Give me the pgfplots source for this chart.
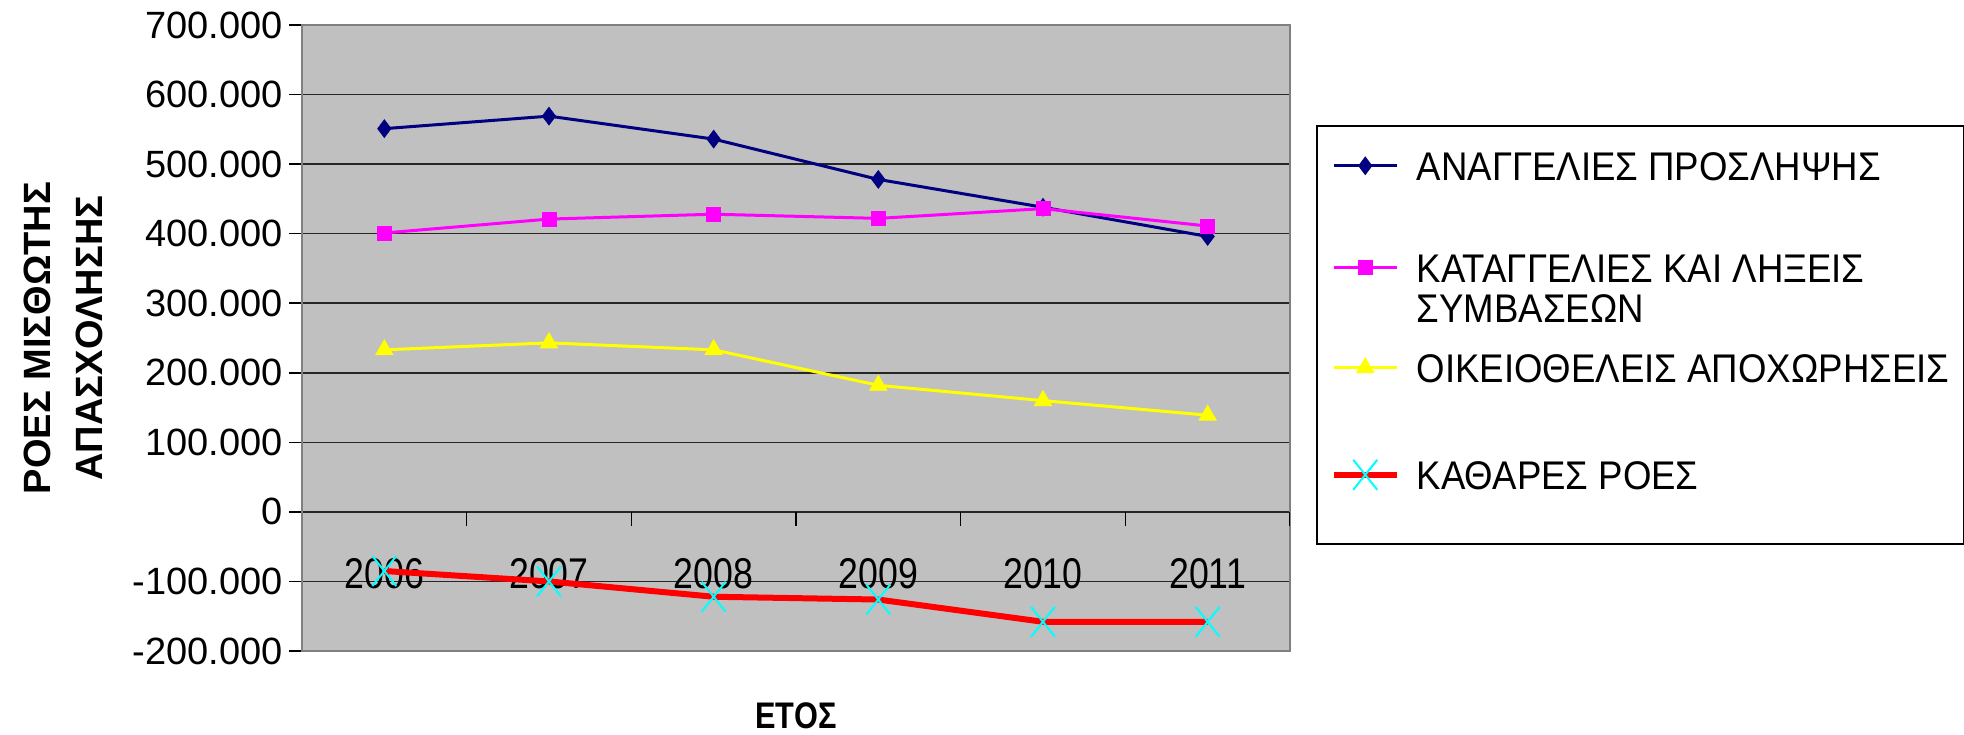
\documentclass[border=0pt]{standalone}
\usepackage{fontspec}
\setmainfont{Liberation Sans}
\newfontfamily\xfont{Liberation Sans}[FakeStretch=0.83]
\newfontfamily\lfont{Liberation Sans}[FakeStretch=0.915]
\usepackage{pgfplots}
\pgfplotsset{compat=1.18}
\definecolor{navyc}{RGB}{0,0,128}
\definecolor{magc}{RGB}{255,0,255}
\definecolor{yelc}{RGB}{255,255,0}
\definecolor{cyanc}{RGB}{0,255,255}
\definecolor{redc}{RGB}{255,0,0}
\definecolor{bgc}{RGB}{192,192,192}
\definecolor{bordc}{RGB}{128,128,128}
\begin{document}
\begin{tikzpicture}
\path[use as bounding box] (-151pt,-41.5pt) rectangle (831pt,325.5pt);
\begin{axis}[
  anchor=south west, at={(0pt,0pt)},
  scale only axis, width=494pt, height=313pt,
  xmin=-0.5, xmax=5.5, ymin=-200000, ymax=700000,
  xtick={0,1,2,3,4,5},
  xticklabels={2006,2007,2008,2009,2010,2011},
  ytick={-200000,-100000,0,100000,200000,300000,400000,500000,600000,700000},
  scaled y ticks=false,
  /pgf/number format/assume math mode=true,
  yticklabel style={/pgf/number format/fixed, /pgf/number format/1000 sep={.}, font=\fontsize{19}{22}\selectfont},
  xticklabel style={font=\xfont\fontsize{21.5}{24}\selectfont, yshift=56.2pt},
  axis background/.style={fill=bgc},
  axis line style={draw=bordc, line width=1.2pt},
  ymajorgrids, grid style={draw=black!85, line width=0.8pt},
  ytick pos=left, tick align=outside, major tick length=6.25pt,
  ytick style={draw=black, line width=0.8pt},
  xtick style={draw=none},
  xlabel={ΕΤΟΣ},
  xlabel style={at={(axis description cs:0.5,0)}, anchor=center, yshift=-32.5pt, font=\xfont\bfseries\fontsize{18.5}{20}\selectfont},
  ylabel={ΡΟΕΣ ΜΙΣΘΩΤΗΣ\\ΑΠΑΣΧΟΛΗΣΗΣ},
  ylabel style={at={(axis description cs:-0.2411,0.5)}, anchor=center, align=center, font=\bfseries\fontsize{19}{26}\selectfont},
  legend cell align=left,
  legend style={at={(1.0263,0.8403)}, anchor=north west, draw=black, line width=0.8pt, fill=white,
    inner xsep=3pt, inner ysep=0pt, row sep=0pt, column sep=8.5pt,
    nodes={inner sep=0pt, text depth={}}, font=\lfont\fontsize{20}{20}\selectfont},
  legend image code/.code={%
    \path (-4pt,0pt);
    \draw[mark repeat=2, mark phase=2, #1] plot coordinates {(0pt,0pt) (15.75pt,0pt) (31.5pt,0pt)};
  },
]
\pgfplotsinvokeforeach{0.5,1.5,2.5,3.5,4.5,5.5}{\draw[black, line width=0.8pt] (axis cs:#1,0) -- ++(0pt,-7pt);}
\addplot[color=navyc, line width=1.5pt, mark=diamond*, mark size=4.4pt, mark options={fill=navyc, draw=navyc, line width=0.4pt}]
  coordinates {(0,551000) (1,569000) (2,536000) (3,478000) (4,438000) (5,396000)};
\addlegendentry{\parbox[t]{270.5pt}{\raggedright\rule[-12.8pt]{0pt}{40pt}ΑΝΑΓΓΕΛΙΕΣ ΠΡΟΣΛΗΨΗΣ}}
\addplot[color=magc, line width=1.5pt, mark=square*, mark size=3.5pt, mark options={fill=magc, draw=magc, line width=0.4pt}]
  coordinates {(0,401000) (1,421000) (2,428000) (3,422000) (4,436000) (5,411000)};
\addlegendentry{\parbox[t]{270.5pt}{\raggedright\rule{0pt}{38.2pt}ΚΑΤΑΓΓΕΛΙΕΣ ΚΑΙ ΛΗΞΕΙΣ\\ΣΥΜΒΑΣΕΩΝ\rule[-3.8pt]{0pt}{3.8pt}}}
\addplot[color=yelc, line width=1.5pt, mark=triangle*, mark size=5pt, mark options={fill=yelc, draw=yelc, line width=0.4pt}]
  coordinates {(0,233000) (1,243000) (2,233000) (3,182000) (4,160000) (5,139000)};
\addlegendentry{\parbox[t]{270.5pt}{\raggedright\rule[-11.8pt]{0pt}{38pt}ΟΙΚΕΙΟΘΕΛΕΙΣ ΑΠΟΧΩΡΗΣΕΙΣ}}
\addplot[color=redc, line width=3pt, mark=x, mark size=8.5pt, mark options={draw=cyanc, line width=1pt, yscale=1.25}]
  coordinates {(0,-85000) (1,-100000) (2,-122000) (3,-126000) (4,-158000) (5,-158000)};
\addlegendentry{\parbox[t]{270.5pt}{\raggedright\rule[-27.3pt]{0pt}{69pt}ΚΑΘΑΡΕΣ ΡΟΕΣ}}
\end{axis}
\end{tikzpicture}
\end{document}
